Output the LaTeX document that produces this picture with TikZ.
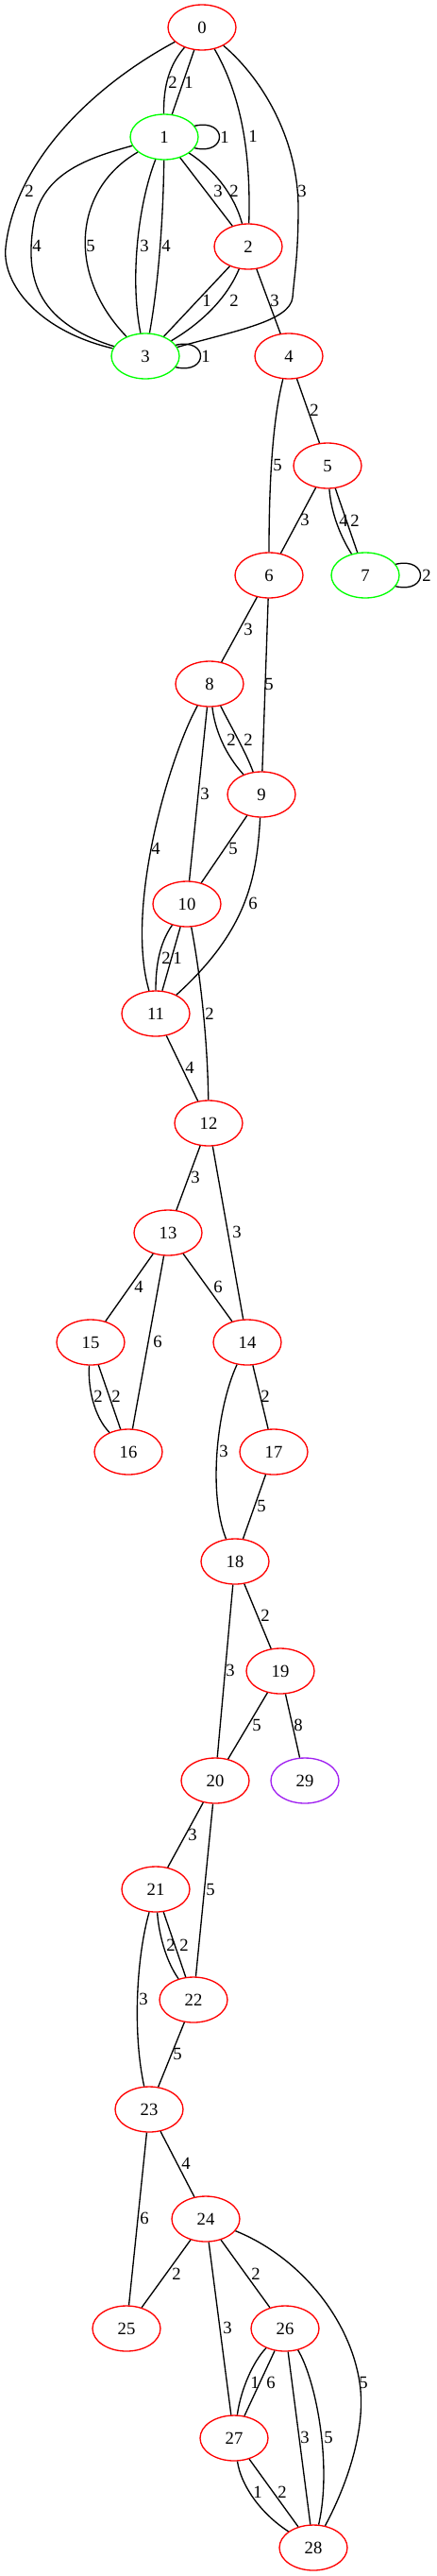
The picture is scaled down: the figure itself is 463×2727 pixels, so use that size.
\documentclass[tikz,border=0pt]{standalone}
\usepackage{fontspec}
\setmainfont{Liberation Serif}
\usetikzlibrary{shapes.geometric}
\definecolor{gvred}{HTML}{FF0000}
\definecolor{gvgreen}{HTML}{00FF00}
\definecolor{gvpurple}{HTML}{A020F0}

\begin{document}
\begin{tikzpicture}[x=0.75pt, y=-0.75pt]
    % Define styles
    \tikzstyle{vertex} = [ellipse, draw=gvred, line width=1pt, minimum width=54pt, minimum height=36pt, inner sep=0pt, font=\fontsize{14}{16}\selectfont]
    \tikzstyle{loopvertex} = [vertex, draw=gvgreen]
    \tikzstyle{leaf} = [vertex, draw=gvpurple]
    \tikzstyle{link} = [line width=1pt]
    \tikzstyle{weight} = [inner sep=0pt, font=\fontsize{14}{16}\selectfont]

    \useasboundingbox (0,0) rectangle (463,2727);

    % Vertices
    \node[vertex] (n0) at (214,29) {0};
    \node[loopvertex] (n1) at (174,145) {1};
    \node[vertex] (n2) at (263,261) {2};
    \node[loopvertex] (n3) at (154,377) {3};
    \node[vertex] (n4) at (306,377) {4};
    \node[vertex] (n5) at (347,493) {5};
    \node[vertex] (n6) at (285,609) {6};
    \node[loopvertex] (n7) at (387,609) {7};
    \node[vertex] (n8) at (222,724) {8};
    \node[vertex] (n9) at (277,841) {9};
    \node[vertex] (n10) at (198,957) {10};
    \node[vertex] (n11) at (165,1073) {11};
    \node[vertex] (n12) at (221,1189) {12};
    \node[vertex] (n13) at (178,1305) {13};
    \node[vertex] (n14) at (262,1421) {14};
    \node[vertex] (n15) at (96,1421) {15};
    \node[vertex] (n16) at (136,1537) {16};
    \node[vertex] (n17) at (290,1537) {17};
    \node[vertex] (n18) at (249,1653) {18};
    \node[vertex] (n19) at (297,1769) {19};
    \node[vertex] (n20) at (228,1885) {20};
    \node[leaf] (n29) at (323,1885) {29};
    \node[vertex] (n21) at (165,2000) {21};
    \node[vertex] (n22) at (205,2117) {22};
    \node[vertex] (n23) at (158,2233) {23};
    \node[vertex] (n24) at (218,2349) {24};
    \node[vertex] (n25) at (134,2465) {25};
    \node[vertex] (n26) at (302,2465) {26};
    \node[vertex] (n27) at (248,2581) {27};
    \node[vertex] (n28) at (332,2697) {28};

    % Edges around 0 to 4
    \draw[link] (n0) .. controls (180,68) and (173,90) .. (n1) node[weight] at (183,87) {2};
    \draw[link] (n0) -- (n1) node[weight] at (200,87) {1};
    \draw[link] (n0) .. controls (255,100) and (266,160) .. (n2) node[weight] at (268,144) {1};
    \draw[link] (n0) .. controls (280,85) and (316,150) .. (316,220) .. controls (316,270) and (312,290) .. (310,315) .. controls (307,340) and (250,350) .. (n3) node[weight] at (320,202) {3};
    \draw[link] (n0) .. controls (100,90) and (16,170) .. (6,262) .. controls (2,300) and (40,350) .. (n3) node[weight] at (31,202) {2};
    \draw[link] (n1.20) .. controls +(35,-8) and +(35,8) .. (n1.-20) node[weight] at (238,145) {1};
    \draw[link] (n1) .. controls (90,168) and (42,185) .. (35,240) .. controls (28,290) and (35,340) .. (n3) node[weight] at (39,260) {4};
    \draw[link] (n1) .. controls (78,200) and (70,290) .. (n3) node[weight] at (96,260) {5};
    \draw[link] (n1) .. controls (145,220) and (138,300) .. (n3) node[weight] at (153,260) {3};
    \draw[link] (n1) .. controls (173,230) and (168,300) .. (n3) node[weight] at (176,260) {4};
    \draw[link] (n1) -- (n2) node[weight] at (231,202) {3};
    \draw[link] (n1) .. controls (225,178) and (248,205) .. (n2) node[weight] at (248,202) {2};
    \draw[link] (n2) -- (n3) node[weight] at (219,318) {1};
    \draw[link] (n2) .. controls (245,305) and (225,335) .. (n3) node[weight] at (248,318) {2};
    \draw[link] (n2) -- (n4) node[weight] at (291,318) {3};
    \draw[link] (n3.20) .. controls +(35,-8) and +(35,8) .. (n3.-20) node[weight] at (218,377) {1};

    % Edges around 4 to 12
    \draw[link] (n4) -- (n5) node[weight] at (333,434) {2};
    \draw[link] (n4) .. controls (290,440) and (285,500) .. (n6) node[weight] at (294,492) {5};
    \draw[link] (n5) -- (n6) node[weight] at (323,550) {3};
    \draw[link] (n5) .. controls (351,545) and (362,570) .. (n7) node[weight] at (364,551) {4};
    \draw[link] (n5) -- (n7) node[weight] at (376,551) {2};
    \draw[link] (n7.20) .. controls +(35,-8) and +(35,8) .. (n7.-20) node[weight] at (452,609) {2};
    \draw[link] (n6) -- (n8) node[weight] at (263,666) {3};
    \draw[link] (n6) -- (n9) node[weight] at (285,724) {5};
    \draw[link] (n8) .. controls (228,775) and (240,800) .. (n9) node[weight] at (245,783) {2};
    \draw[link] (n8) .. controls (245,770) and (260,795) .. (n9) node[weight] at (263,783) {2};
    \draw[link] (n8) -- (n10) node[weight] at (217,840) {3};
    \draw[link] (n8) .. controls (180,800) and (132,960) .. (n11) node[weight] at (165,898) {4};
    \draw[link] (n9) -- (n10) node[weight] at (247,898) {5};
    \draw[link] (n9) .. controls (272,930) and (262,985) .. (n11) node[weight] at (268,956) {6};
    \draw[link] (n10) .. controls (168,1000) and (165,1025) .. (n11) node[weight] at (176,1014) {2};
    \draw[link] (n10) -- (n11) node[weight] at (188,1014) {1};
    \draw[link] (n10) .. controls (212,1030) and (220,1100) .. (n12) node[weight] at (222,1073) {2};
    \draw[link] (n11) -- (n12) node[weight] at (201,1130) {4};

    % Edges around 12 to 20
    \draw[link] (n12) -- (n13) node[weight] at (207,1246) {3};
    \draw[link] (n12) -- (n14) node[weight] at (251,1304) {3};
    \draw[link] (n13) -- (n15) node[weight] at (147,1362) {4};
    \draw[link] (n13) -- (n16) node[weight] at (167,1420) {6};
    \draw[link] (n13) -- (n14) node[weight] at (231,1362) {6};
    \draw[link] (n15) .. controls (93,1470) and (100,1500) .. (n16) node[weight] at (104,1478) {2};
    \draw[link] (n15) -- (n16) node[weight] at (123,1478) {2};
    \draw[link] (n14) .. controls (230,1490) and (220,1580) .. (n18) node[weight] at (237,1536) {3};
    \draw[link] (n14) -- (n17) node[weight] at (281,1478) {2};
    \draw[link] (n17) -- (n18) node[weight] at (277,1594) {5};
    \draw[link] (n18) -- (n20) node[weight] at (244,1768) {3};
    \draw[link] (n18) -- (n19) node[weight] at (281,1710) {2};
    \draw[link] (n19) -- (n20) node[weight] at (272,1826) {5};
    \draw[link] (n19) -- (n29) node[weight] at (316,1826) {8};

    % Edges around 20 to 28
    \draw[link] (n20) -- (n21) node[weight] at (204,1942) {3};
    \draw[link] (n20) -- (n22) node[weight] at (223,2000) {5};
    \draw[link] (n21) .. controls (168,2045) and (175,2075) .. (n22) node[weight] at (181,2059) {2};
    \draw[link] (n21) -- (n22) node[weight] at (195,2059) {2};
    \draw[link] (n21) .. controls (145,2070) and (140,2150) .. (n23) node[weight] at (152,2116) {3};
    \draw[link] (n22) -- (n23) node[weight] at (188,2174) {5};
    \draw[link] (n23) -- (n25) node[weight] at (153,2348) {6};
    \draw[link] (n23) -- (n24) node[weight] at (197,2290) {4};
    \draw[link] (n24) -- (n25) node[weight] at (187,2407) {2};
    \draw[link] (n24) -- (n27) node[weight] at (241,2464) {3};
    \draw[link] (n24) -- (n26) node[weight] at (271,2407) {2};
    \draw[link] (n24) .. controls (320,2390) and (375,2460) .. (382,2530) .. controls (386,2575) and (368,2630) .. (n28) node[weight] at (385,2522) {5};
    \draw[link] (n26) .. controls (268,2500) and (255,2530) .. (n27) node[weight] at (270,2522) {1};
    \draw[link] (n26) -- (n27) node[weight] at (287,2522) {6};
    \draw[link] (n26) -- (n28) node[weight] at (323,2580) {3};
    \draw[link] (n26) .. controls (335,2520) and (352,2610) .. (n28) node[weight] at (348,2580) {5};
    \draw[link] (n27) .. controls (255,2630) and (275,2660) .. (n28) node[weight] at (273,2638) {1};
    \draw[link] (n27) -- (n28) node[weight] at (299,2638) {2};

\end{tikzpicture}
\end{document}
